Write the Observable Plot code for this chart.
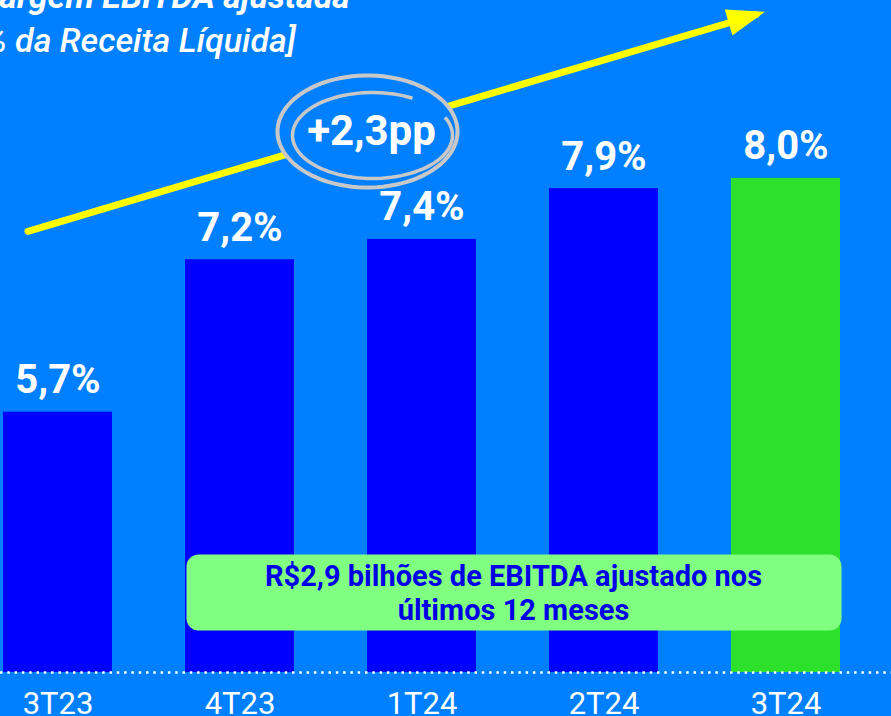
<!DOCTYPE html>
<html>
<head>
<meta charset="utf-8">
<script src="https://cdn.jsdelivr.net/npm/d3@7"></script>
<script src="https://cdn.jsdelivr.net/npm/@observablehq/plot@0.6"></script>
<style>
  html, body { margin: 0; padding: 0; background: #0080ff; overflow: hidden; }
  #chart { width: 891px; height: 716px; }
  g[aria-label="delta"] text { letter-spacing: 1px; }
  g[aria-label="note"] text { letter-spacing: 0.6px; }
</style>
</head>
<body>
<div id="chart"></div>
<script>
// ---- data ----
const quarters = ["3T23", "4T23", "1T24", "2T24", "3T24"];
const ebitdaMargin = [5.7, 7.2, 7.4, 7.9, 8.0];
const marginLabels = ["5,7%", "7,2%", "7,4%", "7,9%", "8,0%"];
const highlightQuarter = "3T24";
const axisStart = 3.14;   // value at the dotted baseline
const axisEnd = 9.75;     // value at the top edge
const titleLine1 = "Margem EBITDA ajustada";
const titleLine2 = "[% da Receita Líquida]";
const deltaText = "+2,3pp";
const noteLine1 = "R$2,9 bilhões de EBITDA ajustado nos";
const noteLine2 = "últimos 12 meses";
const trendStart = {q: "3T23", v: 7.48};
const trendEnd = {q: "3T24", v: 9.61};
const trendTip = {q: "3T24", v: 9.64};

// ---- colours ----
const bg = "#0080ff";
const barBlue = "#0000ff";
const barGreen = "#2ce02c";
const boxGreen = "#80ff80";
const noteBlue = "#0000e6";
const yellow = "#ffff00";
const grey = "#c8c8c8";

const rows = quarters.map((q, i) => ({q, v: ebitdaMargin[i], label: marginLabels[i],
  color: q === highlightQuarter ? barGreen : barBlue}));

// ---- custom symbols for annotations ----
const arrowHead = {draw(ctx) { ctx.moveTo(0, 0); ctx.lineTo(13.5, 38); ctx.lineTo(-13.5, 38); ctx.closePath(); }};
function ellipseSymbol(rx, ry, a0, a1, close) {
  return {draw(ctx) {
    const n = 90;
    for (let i = 0; i <= n; i++) {
      const t = (a0 + (a1 - a0) * i / n) * Math.PI / 180;
      const px = rx * Math.cos(t), py = ry * Math.sin(t);
      if (i === 0) ctx.moveTo(px, py); else ctx.lineTo(px, py);
    }
    if (close) ctx.closePath();
  }};
}
function roundRect(w, h, r) {
  return {draw(ctx) {
    const x0 = -w / 2, y0 = -h / 2, x1 = w / 2, y1 = h / 2;
    ctx.moveTo(x0 + r, y0); ctx.lineTo(x1 - r, y0); ctx.arcTo(x1, y0, x1, y0 + r, r);
    ctx.lineTo(x1, y1 - r); ctx.arcTo(x1, y1, x1 - r, y1, r);
    ctx.lineTo(x0 + r, y1); ctx.arcTo(x0, y1, x0, y1 - r, r);
    ctx.lineTo(x0, y0 + r); ctx.arcTo(x0, y0, x0 + r, y0, r); ctx.closePath();
  }};
}

const chart = Plot.plot({
  width: 891,
  height: 716,
  marginTop: 0, marginRight: 0, marginLeft: 0, marginBottom: 44,
  style: {background: bg, fontFamily: "Roboto, 'Open Sans', sans-serif", overflow: "hidden"},
  x: {domain: quarters, range: [3.4, 840.6], paddingInner: 0.4, paddingOuter: 0, axis: null},
  y: {domain: [axisStart, axisEnd], axis: null},
  color: {type: "identity"},
  marks: [
    Plot.barY(rows, {x: "q", y1: () => axisStart, y2: "v", fill: "color"}),
    Plot.ruleY([axisStart], {stroke: "white", strokeWidth: 2.5, strokeDasharray: "2.5,4.8"}),
    Plot.text(rows, {x: "q", y: "v", text: "label", dy: -19, lineAnchor: "bottom",
      fontSize: 40, fontWeight: 700, fill: "white"}),
    Plot.text(quarters, {x: d => d, y: () => axisStart, text: d => d, dy: 19, lineAnchor: "top",
      fontSize: 31, fill: "white"}),
    // trend arrow
    Plot.line([trendStart, trendEnd], {x: "q", y: "v", dx: -30, stroke: yellow, strokeWidth: 7}),
    Plot.dot([trendTip], {x: "q", y: "v", dx: -21, symbol: arrowHead, rotate: 73.5, fill: yellow, stroke: "none"}),
    // circled delta
    Plot.dot([deltaText], {frameAnchor: "top-left", dx: 367, dy: 131, symbol: ellipseSymbol(90, 56, 0, 360, true),
      fill: bg, stroke: grey, strokeWidth: 4}),
    Plot.dot([deltaText], {frameAnchor: "top-left", dx: 372, dy: 135, symbol: ellipseSymbol(80, 43, -25, 300, false),
      fill: "none", stroke: grey, strokeWidth: 3.5}),
    Plot.text([deltaText], {frameAnchor: "top-left", dx: 371, dy: 144, text: d => d, lineAnchor: "bottom",
      textAnchor: "middle", fontSize: 42, fontWeight: 700, fill: "white", ariaLabel: "delta"}),
    // title
    Plot.text([titleLine1], {frameAnchor: "top-left", dx: -30, dy: 7, text: d => d, lineAnchor: "bottom",
      textAnchor: "start", fontSize: 34, fontWeight: 700, fontStyle: "italic", fill: "white"}),
    Plot.text([titleLine2], {frameAnchor: "top-left", dx: -27, dy: 51, text: d => d, lineAnchor: "bottom",
      textAnchor: "start", fontSize: 34, fontWeight: 500, fontStyle: "italic", fill: "white"}),
    // note box
    Plot.dot([noteLine1], {frameAnchor: "top-left", dx: 513.5, dy: 592, symbol: roundRect(655, 76, 12),
      fill: boxGreen, stroke: "none"}),
    Plot.text([noteLine1], {frameAnchor: "top-left", dx: 513, dy: 585, text: d => d, lineAnchor: "bottom",
      textAnchor: "middle", fontSize: 29, fontWeight: 700, fill: noteBlue, ariaLabel: "note"}),
    Plot.text([noteLine2], {frameAnchor: "top-left", dx: 513, dy: 619, text: d => d, lineAnchor: "bottom",
      textAnchor: "middle", fontSize: 29, fontWeight: 700, fill: noteBlue, ariaLabel: "note"})
  ]
});
document.getElementById("chart").appendChild(chart);
</script>
</body>
</html>
